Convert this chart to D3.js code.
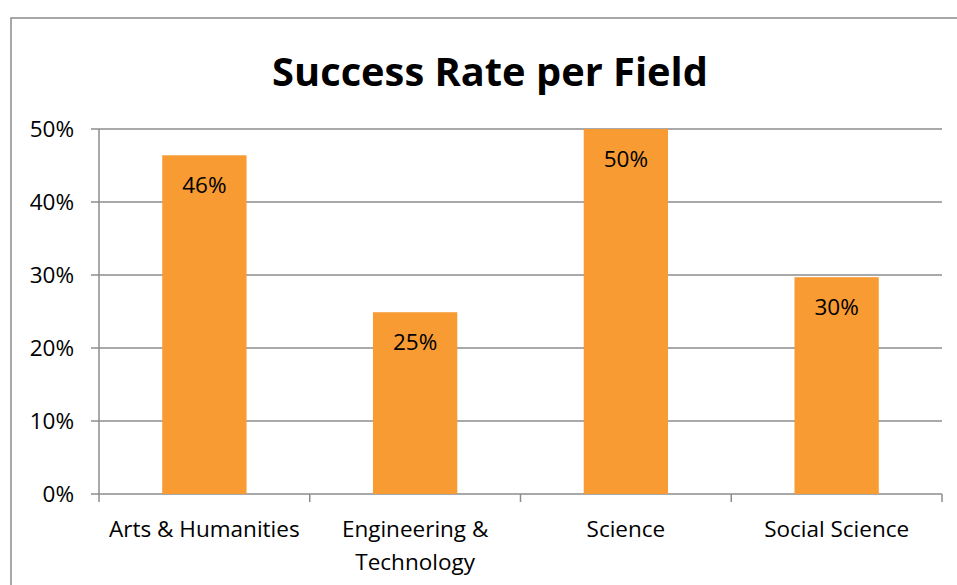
<!DOCTYPE html>
<html><head><meta charset="utf-8">
<script src="https://cdn.jsdelivr.net/npm/d3@7"></script>
<style>body{margin:0;background:#fff;} svg{display:block;}</style>
</head><body>
<script>
const categories = ["Arts & Humanities", "Engineering & Technology", "Science", "Social Science"];
const categoryLines = [["Arts & Humanities"], ["Engineering &", "Technology"], ["Science"], ["Social Science"]];
const values = [0.464, 0.249, 0.50, 0.297];
const valueLabels = ["46%", "25%", "50%", "30%"];
const yTicks = [0, 0.1, 0.2, 0.3, 0.4, 0.5];
const title = "Success Rate per Field";

const W = 957, H = 585;
const font = "'Open Sans', 'Noto Sans', sans-serif";
const svg = d3.select("body").append("svg").attr("width", W).attr("height", H);

svg.append("rect").attr("x", 11).attr("y", 18).attr("width", W + 10).attr("height", H + 10)
  .attr("fill", "#fff").attr("stroke", "#8c8c8c").attr("stroke-width", 1.5);

const x0 = 99, x1 = 942, yBase = 494, yTop = 129;
const x = d3.scaleBand().domain(categories).range([x0, x1]).paddingInner(0.6).paddingOuter(0.3);
const y = d3.scaleLinear().domain([0, 0.5]).range([yBase, yTop]);

// gridlines
svg.append("g").selectAll("line").data(yTicks).join("line")
  .attr("x1", x0 - 8).attr("x2", x1).attr("y1", d => y(d)).attr("y2", d => y(d))
  .attr("stroke", "#8c8c8c").attr("stroke-width", 1.5);

// y axis line
svg.append("line").attr("x1", x0).attr("x2", x0).attr("y1", yTop).attr("y2", yBase)
  .attr("stroke", "#8c8c8c").attr("stroke-width", 1.5);

// y labels
svg.append("g").selectAll("text").data(yTicks).join("text")
  .attr("x", 74).attr("y", d => y(d)).attr("dy", "0.35em").attr("text-anchor", "end")
  .attr("font-family", font).attr("font-size", 22.5).attr("fill", "#000")
  .text(d => d3.format(".0%")(d));

// x category ticks
const step = x.step();
const tickXs = d3.range(categories.length + 1).map(i => x0 + i * step);
svg.append("g").selectAll("line").data(tickXs).join("line")
  .attr("x1", d => d).attr("x2", d => d).attr("y1", yBase).attr("y2", yBase + 8)
  .attr("stroke", "#8c8c8c").attr("stroke-width", 1.5);

// bars
svg.append("g").selectAll("rect").data(categories).join("rect")
  .attr("x", d => x(d)).attr("y", (d, i) => y(values[i]))
  .attr("width", x.bandwidth()).attr("height", (d, i) => yBase - y(values[i]))
  .attr("fill", "#F79B32");

// data labels
svg.append("g").selectAll("text").data(categories).join("text")
  .attr("x", d => x(d) + x.bandwidth() / 2).attr("y", (d, i) => y(values[i]) + 38)
  .attr("text-anchor", "middle").attr("font-family", font).attr("font-size", 22.5).attr("fill", "#000")
  .text((d, i) => valueLabels[i]);

// category labels
const cg = svg.append("g").selectAll("text").data(categories).join("text")
  .attr("x", d => x(d) + x.bandwidth() / 2).attr("y", 537)
  .attr("text-anchor", "middle").attr("font-family", font).attr("font-size", 22.5).attr("fill", "#000");
cg.each(function(d, i) {
  const t = d3.select(this);
  categoryLines[i].forEach((ln, j) => {
    t.append("tspan").attr("x", x(d) + x.bandwidth() / 2).attr("dy", j === 0 ? 0 : 33).text(ln);
  });
});

// title
svg.append("text").attr("x", 490).attr("y", 86).attr("text-anchor", "middle")
  .attr("font-family", font).attr("font-weight", "bold").attr("font-size", 39.8).attr("fill", "#000")
  .text(title);
</script>
</body></html>
